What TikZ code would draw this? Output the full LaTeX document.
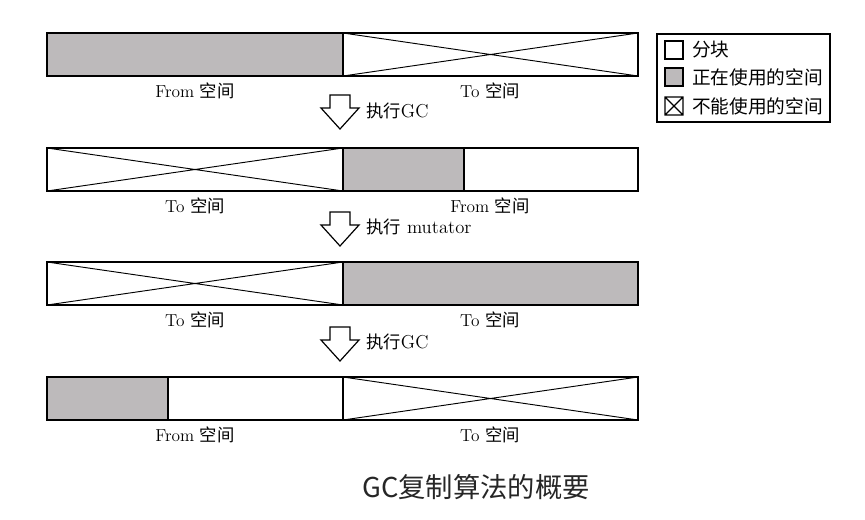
\documentclass[tikz,border=0pt]{standalone}
\usepackage{fontspec}
\newfontfamily\cjk{Noto Sans CJK SC}
\definecolor{usedgray}{RGB}{189,186,187}
\begin{document}
\begin{tikzpicture}[x=0.75pt,y=-0.75pt,line join=miter]
\useasboundingbox[fill=white] (0,0) rectangle (865,519);
\tikzset{
  outline/.style={draw=black,line width=1.4pt},
  used/.style={fill=usedgray},
  crossline/.style={draw=black,line width=0.7pt},
  lab/.style={font=\fontsize{13pt}{15pt}\selectfont,inner sep=0pt},
  steplab/.style={font=\fontsize{14pt}{16pt}\selectfont,inner sep=0pt,anchor=west},
  leglab/.style={font=\fontsize{14pt}{16pt}\selectfont,inner sep=0pt,anchor=west},
  hollowarrow/.pic={\draw[line width=0.9pt,fill=white] (-10,0) -- (10,0) -- (10,13) -- (19,13) -- (0,34) -- (-19,13) -- (-10,13) -- cycle;}
}
\newcommand{\stepcjk}[1]{{\cjk\fontsize{13pt}{15pt}\selectfont #1}}
% ---------- bar 1 ----------
\fill[used] (47,33) rectangle (343,76);
\draw[crossline] (343,33) -- (638,76) (343,76) -- (638,33);
\draw[outline] (47,33) rectangle (638,76) (343,33) -- (343,76);
\node[lab] (b1l) at (195,91) {From {\cjk 空间}};
\node[lab] (b1r) at (490,91) {To {\cjk 空间}};
\pic at (340,95) {hollowarrow};
\node[steplab] (s1) at (366,111) {\stepcjk{执行}GC};
% ---------- bar 2 ----------
\draw[crossline] (47,148) -- (343,191) (47,191) -- (343,148);
\fill[used] (343,148) rectangle (464,191);
\draw[outline] (47,148) rectangle (638,191) (343,148) -- (343,191) (464,148) -- (464,191);
\node[lab] (b2l) at (195,206) {To {\cjk 空间}};
\node[lab] (b2r) at (490,206) {From {\cjk 空间}};
\pic at (340,212) {hollowarrow};
\node[steplab] (s2) at (366,227) {\stepcjk{执行} mutator};
% ---------- bar 3 ----------
\draw[crossline] (47,262) -- (343,305) (47,305) -- (343,262);
\fill[used] (343,262) rectangle (638,305);
\draw[outline] (47,262) rectangle (638,305) (343,262) -- (343,305);
\node[lab] (b3l) at (195,320) {To {\cjk 空间}};
\node[lab] (b3r) at (490,320) {To {\cjk 空间}};
\pic at (340,327) {hollowarrow};
\node[steplab] (s3) at (366,342) {\stepcjk{执行}GC};
% ---------- bar 4 ----------
\fill[used] (47,377) rectangle (168,420);
\draw[crossline] (343,377) -- (638,420) (343,420) -- (638,377);
\draw[outline] (47,377) rectangle (638,420) (168,377) -- (168,420) (343,377) -- (343,420);
\node[lab] (b4l) at (195,435) {From {\cjk 空间}};
\node[lab] (b4r) at (490,435) {To {\cjk 空间}};
% ---------- legend ----------
\draw[line width=1.1pt] (657,34) rectangle (830,122);
\draw[line width=0.9pt] (665,41) rectangle (683,59);
\draw[line width=0.9pt,fill=usedgray] (665,68) rectangle (683,86);
\draw[line width=0.9pt] (665,97) rectangle (683,115) (665,97) -- (683,115) (665,115) -- (683,97);
\node[leglab] (l1) at (692,50) {\cjk 分块};
\node[leglab] (l2) at (692,77) {\cjk 正在使用的空间};
\node[leglab] (l3) at (692,106) {\cjk 不能使用的空间};
% ---------- title ----------
\node[font=\cjk\fontsize{20.5pt}{23pt}\selectfont,inner sep=0pt,text=black!85] (title) at (476,487) {GC复制算法的概要};
\end{tikzpicture}
\end{document}
